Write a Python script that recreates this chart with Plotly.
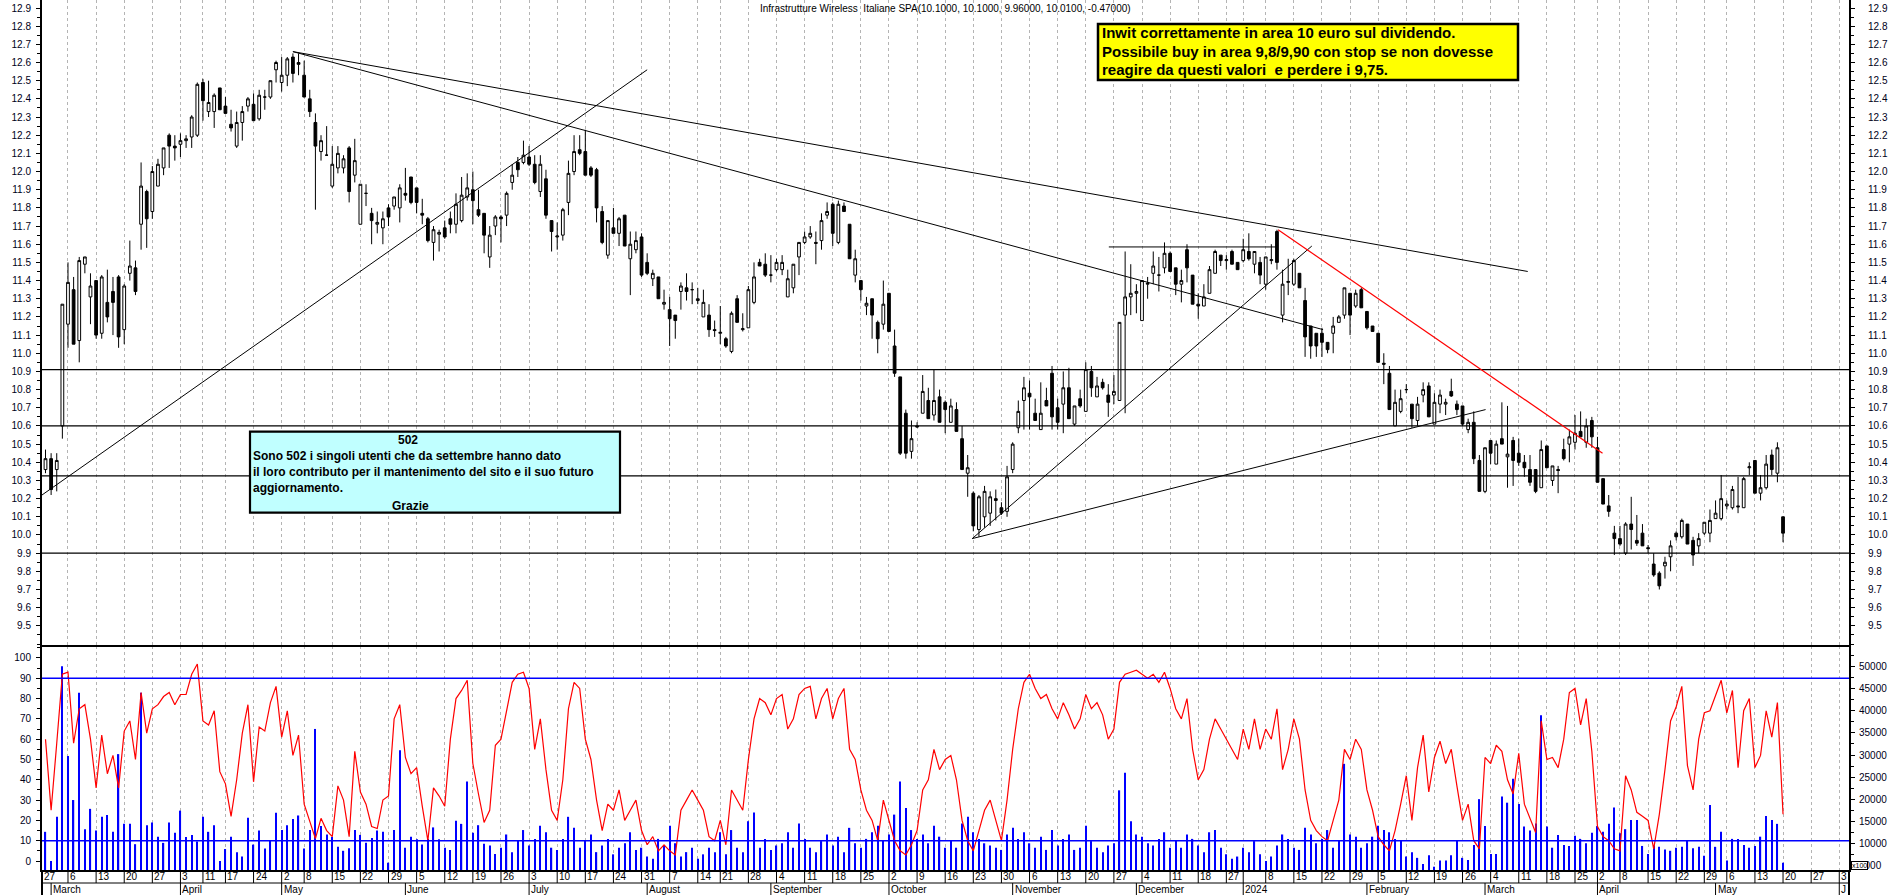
import datetime as dt
import plotly.graph_objects as go

# ---------------- calendar ----------------
HOLIDAYS = [dt.date(2023, 4, 7), dt.date(2023, 4, 10), dt.date(2023, 5, 1), dt.date(2023, 8, 15),
            dt.date(2023, 12, 25), dt.date(2023, 12, 26), dt.date(2024, 1, 1), dt.date(2024, 3, 29),
            dt.date(2024, 4, 1), dt.date(2024, 5, 1)]
CAL_START = dt.date(2023, 2, 27)
CAL_END = dt.date(2024, 6, 7)
FIRST_CANDLE = dt.date(2023, 2, 28)
MONTH_LABELS = ["March", "April", "May", "June", "July", "August", "September", "October",
                "November", "December", "2024", "February", "March", "April", "May", "J"]
SKIP_DAY_LABELS = [dt.date(2024, 1, 2)]

# ---------------- price data (daily OHLC) ----------------
OPEN = [10.36, 10.42, 10.36, 10.60, 11.16, 11.35, 11.07, 11.49, 11.31, 11.40,
        11.11, 11.28, 11.34, 11.42, 11.13, 11.44, 11.47, 11.71, 11.89, 11.78,
        11.92, 12.02, 12.20, 12.14, 12.15, 12.17, 12.19, 12.20, 12.49, 12.33,
        12.33, 12.46, 12.36, 12.26, 12.14, 12.27, 12.36, 12.37, 12.29, 12.41,
        12.41, 12.56, 12.49, 12.53, 12.63, 12.60, 12.53, 12.40, 12.27, 12.11,
        12.09, 11.92, 12.02, 12.02, 12.13, 11.98, 11.71, 11.88, 11.77, 11.71,
        11.69, 11.80, 11.81, 11.80, 11.88, 11.97, 11.91, 11.77, 11.74, 11.61,
        11.655, 11.69, 11.74, 11.71, 11.73, 11.86, 11.90, 11.79, 11.77, 11.53,
        11.70, 11.75, 11.76, 11.94, 12.05, 12.05, 12.08, 12.04, 11.89, 11.96,
        11.73, 11.64, 11.65, 11.83, 12.00, 12.12, 12.11, 12.02, 12.01, 11.78,
        11.54, 11.69, 11.66, 11.76, 11.52, 11.57, 11.64, 11.50, 11.41, 11.42,
        11.27, 11.24, 11.21, 11.34, 11.36, 11.35, 11.29, 11.20, 11.21, 11.13,
        11.11, 11.08, 11.01, 11.30, 11.13, 11.14, 11.28, 11.50, 11.49, 11.43,
        11.46, 11.46, 11.31, 11.36, 11.53, 11.61, 11.64, 11.61, 11.62, 11.76,
        11.82, 11.61, 11.81, 11.71, 11.43, 11.40, 11.26, 11.30, 11.17, 11.16,
        11.33, 11.04, 10.87, 10.67, 10.46, 10.60, 10.67, 10.74, 10.66, 10.76,
        10.73, 10.62, 10.69, 10.53, 10.34, 10.23, 10.03, 10.10, 10.12, 10.20,
        10.15, 10.13, 10.36, 10.59, 10.74, 10.78, 10.67, 10.58, 10.74, 10.89,
        10.70, 10.72, 10.81, 10.61, 10.75, 10.68, 10.90, 10.76, 10.84, 10.77,
        10.77, 10.74, 11.21, 11.31, 11.33, 11.18, 11.38, 11.44, 11.43, 11.47,
        11.55, 11.47, 11.38, 11.57, 11.43, 11.27, 11.26, 11.33, 11.44, 11.54,
        11.51, 11.56, 11.50, 11.51, 11.56, 11.49, 11.50, 11.38, 11.51, 11.67,
        11.21, 11.39, 11.38, 11.44, 11.29, 11.15, 11.11, 11.11, 11.06, 11.11,
        11.17, 11.21, 11.33, 11.26, 11.35, 11.23, 11.15, 11.11, 10.945, 10.89,
        10.60, 10.68, 10.80, 10.72, 10.63, 10.77, 10.82, 10.61, 10.72, 10.72,
        10.79, 10.72, 10.71, 10.58, 10.62, 10.41, 10.24, 10.52, 10.39, 10.53,
        10.43, 10.52, 10.45, 10.40, 10.36, 10.36, 10.26, 10.49, 10.30, 10.36,
        10.47, 10.50, 10.51, 10.57, 10.51, 10.63, 10.48, 10.31, 10.16, 10.01,
        9.98, 9.90, 10.06, 9.97, 10.01, 9.93, 9.84, 9.79, 9.83, 9.88,
        10.01, 9.99, 10.06, 9.97, 9.94, 10.01, 10.01, 10.09, 10.09, 10.16,
        10.15, 10.16, 10.15, 10.37, 10.41, 10.23, 10.26, 10.44, 10.34, 10.10]

HIGH = [10.47, 10.45, 10.45, 11.27, 11.50, 11.42, 11.53, 11.53, 11.44, 11.40,
        11.43, 11.46, 11.42, 11.43, 11.38, 11.62, 11.51, 12.05, 11.90, 12.03,
        12.07, 12.13, 12.21, 12.20, 12.21, 12.20, 12.31, 12.49, 12.51, 12.50,
        12.43, 12.46, 12.41, 12.34, 12.33, 12.36, 12.41, 12.43, 12.45, 12.45,
        12.50, 12.61, 12.63, 12.63, 12.65, 12.65, 12.61, 12.45, 12.32, 12.20,
        12.25, 12.14, 12.14, 12.09, 12.14, 12.18, 11.93, 11.93, 11.80, 11.78,
        11.78, 11.82, 11.86, 11.93, 12.02, 11.97, 11.91, 11.85, 11.75, 11.70,
        11.68, 11.73, 11.78, 11.88, 11.97, 11.99, 12.00, 11.90, 11.77, 11.70,
        11.76, 11.76, 11.89, 12.04, 12.08, 12.17, 12.14, 12.09, 12.09, 12.01,
        11.73, 11.72, 11.80, 12.06, 12.20, 12.20, 12.23, 12.03, 12.02, 11.81,
        11.73, 11.80, 11.75, 11.76, 11.67, 11.67, 11.66, 11.55, 11.46, 11.42,
        11.35, 11.31, 11.21, 11.39, 11.44, 11.39, 11.36, 11.35, 11.27, 11.18,
        11.26, 11.09, 11.23, 11.32, 11.22, 11.37, 11.50, 11.52, 11.55, 11.54,
        11.52, 11.54, 11.46, 11.49, 11.61, 11.67, 11.70, 11.67, 11.77, 11.83,
        11.83, 11.84, 11.83, 11.71, 11.57, 11.40, 11.31, 11.30, 11.18, 11.40,
        11.33, 11.13, 10.87, 10.69, 10.63, 10.62, 10.88, 10.81, 10.91, 10.80,
        10.74, 10.75, 10.73, 10.60, 10.44, 10.24, 10.22, 10.27, 10.24, 10.25,
        10.18, 10.38, 10.51, 10.74, 10.87, 10.85, 10.75, 10.84, 10.81, 10.93,
        10.75, 10.90, 10.92, 10.71, 10.80, 10.95, 10.93, 10.87, 10.86, 10.83,
        10.88, 11.17, 11.56, 11.49, 11.38, 11.40, 11.42, 11.56, 11.53, 11.61,
        11.56, 11.47, 11.46, 11.60, 11.43, 11.33, 11.38, 11.48, 11.57, 11.54,
        11.54, 11.57, 11.50, 11.63, 11.66, 11.56, 11.53, 11.53, 11.60, 11.68,
        11.46, 11.52, 11.52, 11.44, 11.36, 11.15, 11.11, 11.14, 11.06, 11.20,
        11.21, 11.36, 11.33, 11.35, 11.36, 11.23, 11.15, 11.11, 11.00, 10.93,
        10.80, 10.80, 10.83, 10.72, 10.76, 10.84, 10.84, 10.78, 10.80, 10.75,
        10.86, 10.74, 10.71, 10.64, 10.68, 10.44, 10.48, 10.52, 10.52, 10.73,
        10.71, 10.54, 10.53, 10.44, 10.44, 10.36, 10.52, 10.49, 10.38, 10.38,
        10.53, 10.58, 10.66, 10.68, 10.64, 10.65, 10.54, 10.31, 10.22, 10.05,
        10.05, 10.07, 10.21, 10.11, 10.06, 9.945, 9.90, 9.80, 9.88, 9.97,
        10.02, 10.09, 10.06, 9.99, 10.01, 10.07, 10.14, 10.19, 10.33, 10.19,
        10.27, 10.32, 10.32, 10.40, 10.41, 10.33, 10.44, 10.47, 10.51, 10.10]

LOW = [10.34, 10.22, 10.24, 10.53, 11.03, 11.05, 10.95, 11.44, 11.16, 11.08,
       11.08, 11.17, 11.10, 11.03, 11.05, 11.40, 11.32, 11.57, 11.58, 11.74,
       11.92, 11.98, 12.02, 12.06, 12.08, 12.13, 12.13, 12.19, 12.28, 12.30,
       12.24, 12.34, 12.32, 12.22, 12.13, 12.17, 12.33, 12.28, 12.28, 12.34,
       12.40, 12.49, 12.44, 12.47, 12.49, 12.53, 12.41, 12.30, 11.79, 12.06,
       12.09, 11.91, 11.99, 11.99, 11.83, 11.94, 11.71, 11.81, 11.60, 11.66,
       11.60, 11.70, 11.79, 11.72, 11.84, 11.82, 11.77, 11.71, 11.61, 11.51,
       11.56, 11.63, 11.66, 11.66, 11.72, 11.84, 11.71, 11.75, 11.55, 11.47,
       11.65, 11.61, 11.70, 11.90, 11.97, 12.04, 12.03, 11.93, 11.86, 11.74,
       11.56, 11.57, 11.62, 11.76, 11.98, 12.09, 11.98, 11.97, 11.72, 11.60,
       11.52, 11.66, 11.59, 11.59, 11.32, 11.55, 11.42, 11.43, 11.37, 11.30,
       11.24, 11.04, 11.08, 11.24, 11.29, 11.27, 11.27, 11.20, 11.09, 11.09,
       11.05, 11.03, 11.00, 11.17, 11.12, 11.14, 11.27, 11.48, 11.42, 11.39,
       11.45, 11.43, 11.31, 11.33, 11.43, 11.60, 11.63, 11.49, 11.57, 11.74,
       11.59, 11.60, 11.78, 11.52, 11.39, 11.29, 11.21, 11.08, 11.00, 11.13,
       11.12, 10.87, 10.44, 10.42, 10.42, 10.59, 10.67, 10.64, 10.63, 10.62,
       10.56, 10.62, 10.57, 10.36, 10.21, 10.02, 9.99, 10.04, 10.05, 10.08,
       10.11, 10.10, 10.34, 10.56, 10.58, 10.58, 10.63, 10.58, 10.71, 10.58,
       10.58, 10.56, 10.64, 10.60, 10.70, 10.68, 10.76, 10.76, 10.80, 10.65,
       10.72, 10.74, 10.67, 11.21, 11.22, 11.18, 11.30, 11.38, 11.34, 11.44,
       11.45, 11.32, 11.28, 11.39, 11.27, 11.19, 11.26, 11.33, 11.44, 11.48,
       11.46, 11.49, 11.46, 11.50, 11.51, 11.44, 11.38, 11.35, 11.49, 11.46,
       11.17, 11.32, 11.37, 11.36, 10.98, 10.97, 10.98, 10.98, 11.00, 11.00,
       11.17, 11.19, 11.10, 11.25, 11.25, 11.13, 11.12, 10.95, 10.83, 10.69,
       10.60, 10.67, 10.78, 10.59, 10.60, 10.73, 10.65, 10.61, 10.67, 10.66,
       10.76, 10.66, 10.60, 10.56, 10.39, 10.24, 10.23, 10.39, 10.39, 10.50,
       10.26, 10.27, 10.38, 10.32, 10.27, 10.23, 10.26, 10.37, 10.27, 10.23,
       10.41, 10.40, 10.47, 10.54, 10.48, 10.48, 10.29, 10.17, 10.10, 9.89,
       9.94, 9.89, 9.92, 9.94, 9.94, 9.90, 9.77, 9.70, 9.76, 9.80,
       9.97, 9.98, 9.95, 9.83, 9.90, 10.00, 9.96, 10.09, 10.08, 10.14,
       10.14, 10.12, 10.15, 10.33, 10.23, 10.19, 10.25, 10.33, 10.29, 9.96]

CLOSE = [10.42, 10.25, 10.41, 11.27, 11.39, 11.05, 11.51, 11.53, 11.37, 11.10,
         11.42, 11.20, 11.28, 11.09, 11.37, 11.48, 11.34, 11.92, 11.74, 12.00,
         12.04, 12.13, 12.14, 12.13, 12.17, 12.18, 12.30, 12.48, 12.39, 12.38,
         12.42, 12.34, 12.32, 12.24, 12.27, 12.33, 12.40, 12.28, 12.42, 12.41,
         12.50, 12.60, 12.53, 12.62, 12.54, 12.59, 12.41, 12.33, 12.14, 12.17,
         12.09, 12.04, 12.10, 12.07, 11.89, 12.06, 11.93, 11.88, 11.73, 11.72,
         11.74, 11.75, 11.86, 11.91, 11.87, 11.83, 11.83, 11.76, 11.62, 11.68,
         11.665, 11.64, 11.71, 11.82, 11.87, 11.91, 11.84, 11.76, 11.65, 11.65,
         11.75, 11.74, 11.88, 11.98, 12.01, 12.09, 12.04, 11.94, 12.04, 11.76,
         11.67, 11.645, 11.79, 11.99, 12.11, 12.10, 11.98, 11.98, 11.80, 11.61,
         11.73, 11.66, 11.74, 11.59, 11.60, 11.62, 11.43, 11.44, 11.44, 11.30,
         11.28, 11.19, 11.18, 11.37, 11.34, 11.35, 11.30, 11.28, 11.13, 11.125,
         11.115, 11.04, 11.22, 11.17, 11.135, 11.35, 11.42, 11.48, 11.43, 11.43,
         11.50, 11.50, 11.41, 11.49, 11.61, 11.64, 11.66, 11.605, 11.73, 11.78,
         11.66, 11.82, 11.78, 11.52, 11.52, 11.35, 11.275, 11.21, 11.08, 11.27,
         11.12, 10.89, 10.45, 10.45, 10.53, 10.595, 10.79, 10.64, 10.74, 10.62,
         10.69, 10.71, 10.57, 10.36, 10.37, 10.05, 10.21, 10.24, 10.21, 10.19,
         10.12, 10.32, 10.50, 10.68, 10.81, 10.76, 10.63, 10.67, 10.71, 10.65,
         10.62, 10.81, 10.64, 10.71, 10.71, 10.91, 10.81, 10.82, 10.81, 10.73,
         10.79, 11.17, 11.31, 11.33, 11.34, 11.40, 11.385, 11.48, 11.43, 11.55,
         11.45, 11.38, 11.40, 11.47, 11.27, 11.26, 11.31, 11.46, 11.56, 11.51,
         11.515, 11.49, 11.46, 11.57, 11.52, 11.56, 11.43, 11.53, 11.515, 11.50,
         11.38, 11.395, 11.51, 11.36, 11.09, 11.04, 11.04, 11.06, 11.02, 11.15,
         11.20, 11.36, 11.21, 11.33, 11.25, 11.14, 11.12, 10.95, 10.94, 10.69,
         10.73, 10.75, 10.80, 10.64, 10.72, 10.80, 10.65, 10.73, 10.77, 10.73,
         10.765, 10.69, 10.61, 10.62, 10.42, 10.24, 10.48, 10.45, 10.50, 10.50,
         10.445, 10.41, 10.40, 10.37, 10.29, 10.24, 10.47, 10.37, 10.38, 10.355,
         10.42, 10.54, 10.56, 10.54, 10.60, 10.54, 10.29, 10.17, 10.13, 9.98,
         9.95, 10.06, 10.03, 9.955, 9.94, 9.925, 9.78, 9.72, 9.85, 9.94,
         9.99, 10.08, 9.95, 9.89, 9.98, 10.07, 10.08, 10.12, 10.20, 10.17,
         10.25, 10.155, 10.31, 10.375, 10.23, 10.26, 10.39, 10.36, 10.48, 10.01]

# ---------------- lower panel: oscillator (0-100) and volume (x100) ----------------
OSCILLATOR = [60, 25, 58, 92, 93, 58, 75, 77, 60, 36,
              62, 43, 52, 36, 64, 69, 50, 83, 63, 75,
              77, 81, 83, 77, 82, 82, 92, 97, 69, 67,
              74, 44, 38, 22, 40, 63, 77, 39, 66, 64,
              78, 86, 61, 74, 52, 62, 28, 20, 11, 21,
              15, 12, 37, 30, 12, 54, 34, 28, 17, 16,
              30, 32, 70, 77, 51, 43, 46, 27, 10, 36,
              32, 27, 60, 80, 84, 89, 48, 33, 19, 25,
              57, 60, 75, 88, 92, 93, 85, 55, 70, 45,
              25, 20, 40, 75, 88, 85, 60, 50, 30, 15,
              28, 25, 35, 20, 25, 30, 15, 8, 12, 5,
              8, 5, 3, 25, 30, 35, 30, 25, 12, 10,
              20, 8, 35, 30, 25, 50, 70, 80, 78, 72,
              80, 82, 65, 70, 82, 85, 86, 70, 80, 85,
              70, 80, 85, 55, 50, 35, 25, 20, 10, 30,
              20, 10, 5, 3, 8, 15, 35, 40, 55, 45,
              50, 52, 40, 20, 10, 5, 15, 25, 30, 20,
              10, 30, 55, 75, 88, 92, 85, 80, 82, 75,
              70, 78, 72, 65, 70, 82, 75, 78, 72, 60,
              65, 88, 92, 93, 94, 92, 90, 92, 88, 93,
              85, 75, 70, 80, 55, 40, 45, 60, 70, 65,
              60, 55, 50, 65, 55, 70, 55, 65, 60, 75,
              45, 55, 70, 60, 35, 20, 15, 12, 10, 20,
              30, 55, 50, 60, 55, 35, 25, 12, 8, 5,
              15, 28, 42, 20, 46, 62, 34, 51, 59, 48,
              55, 37, 20, 28, 10, 6, 51, 48, 57, 54,
              40, 33, 53, 28, 21, 14, 69, 50, 51, 46,
              60, 83, 85, 67, 80, 54, 17, 12, 10, 6,
              5, 42, 35, 24, 22, 20, 6, 23, 45, 69,
              76, 86, 47, 35, 60, 73, 74, 82, 89, 73,
              84, 46, 74, 80, 46, 52, 74, 61, 78, 23]

VOLUME = [12600, 6000, 16000, 50100, 29800, 19800, 44100, 13200, 17800, 12900,
          16000, 16400, 12600, 30200, 14400, 14400, 9800, 44100, 14100, 14700,
          11500, 10100, 14700, 12400, 17400, 11400, 11900, 10400, 16000, 12600,
          14100, 6000, 8700, 11500, 8000, 7000, 15800, 9700, 12900, 8800,
          10700, 16900, 13000, 14100, 15500, 16300, 8800, 13000, 35900, 13900,
          12000, 11400, 9200, 8300, 8900, 13000, 11900, 10100, 11200, 12900,
          12600, 5600, 13000, 31100, 9000, 11500, 10900, 9700, 11000, 13600,
          10900, 9000, 8500, 15100, 14400, 24000, 12400, 14100, 9900, 9500,
          7600,
          9000, 12000, 8000, 10500, 13000, 9500, 11000, 14000, 12500, 9000,
          8500, 11000, 16000, 13500, 9000, 10500, 12000, 8000, 9500, 11000,
          7500, 9000, 10000, 12500, 8500, 9000, 7000, 6500, 11000, 9500,
          14000, 10000, 7000, 8000, 9000, 6500, 7500, 9000, 8000, 12500,
          7500, 13000, 9000, 8000, 15000, 17000, 9000, 11000, 8500, 9500,
          10000, 12500, 9000, 14500, 11000, 9000, 8000, 10500, 12000, 9500,
          11500, 8000, 13500, 10000, 9000, 11000, 12500, 14000, 10500, 12000,
          16500, 24000, 18000, 13000, 11000, 12000, 10000, 14000, 11500, 9000,
          10500, 9000, 14500, 16000, 12500, 11000, 10000, 9500, 9000, 8500,
          12000, 13500, 11000, 12500, 10000, 9000, 11500, 8500, 13000, 9500,
          11000, 12000, 8500, 9000, 14000, 10500, 9000, 8000, 9500, 10000,
          22000, 26000, 15000, 12000, 11500, 10000, 9500, 11000, 12500, 9000,
          10500, 9000, 12000, 11000, 9500, 8000, 12500, 13000, 9000, 7500,
          6500, 7000, 9000, 8000, 10500, 7500, 6000, 7000, 9500, 12000,
          11000, 9000, 8500, 13500, 12000, 10000, 11000, 13000, 9000, 10500,
          28000, 12000, 11500, 9000, 10000, 11500, 14000, 13000, 12500, 11000,
          10700, 7000, 8000, 6700, 5300, 7300, 4700, 6100, 6100, 7300,
          10700, 6700, 6200, 9600, 20000, 13900, 7600, 7600, 20600, 19200,
          24600, 18900, 13800, 12900, 14500, 39000, 13800, 9000, 11900, 9600,
          9400, 11700, 11000, 10000, 12400, 13900, 12600, 14400, 18100, 12300,
          13200, 15300, 15300, 9400, 7600, 9500, 9200, 8600, 8300, 9000,
          9200, 10700, 8900, 9200, 7200, 18700, 9200, 12600, 6100, 11000,
          11000, 9600, 9000, 9400, 11500, 16200, 15300, 14400, 5600]

# ---------------- drawn studies (x in trading-day positions, y in price) ----------------
LEVELS = [10.91, 10.60, 10.325, 9.90]
TREND_X0 = [0.378, 45.0, 45.0, 165.8, 165.8, 190.1]
TREND_Y0 = [10.22, 12.66, 12.66, 9.98, 9.98, 11.585]
TREND_X1 = [108.0, 264.6, 228.2, 226.2, 257.1, 220.0]
TREND_Y1 = [12.56, 11.45, 11.13, 11.59, 10.69, 11.585]
RED_TREND = [(220.2, 11.68), (277.9, 10.45)]
OSC_BANDS = [90, 10]

TITLE = "Infrastrutture Wireless  Italiane SPA(10.1000, 10.1000, 9.96000, 10.0100, -0.47000)"
YELLOW_LINES = ["Inwit correttamente in area 10 euro sul dividendo.",
                "Possibile buy in area 9,8/9,90 con stop se non dovesse",
                "reagire da questi valori  e perdere i 9,75."]
CYAN_TITLE = "502"
CYAN_LINES = ["Sono 502 i singoli utenti che da settembre hanno dato",
              "il loro contributo per il mantenimento del sito e il suo futuro",
              "aggiornamento."]
CYAN_FOOT = "Grazie"

# ---------------- build ----------------
days = []
d = CAL_START
while d <= CAL_END:
    if d.weekday() < 5 and d not in HOLIDAYS:
        days.append(d)
    d += dt.timedelta(days=1)

x_first = days.index(FIRST_CANDLE)
xs = list(range(x_first, x_first + len(OPEN)))

XMIN, XMAX = 0.378, 321.73
week_starts = [i for i, dd in enumerate(days)
               if i == 0 or dd.isocalendar()[1] != days[i - 1].isocalendar()[1]]
week_starts = [i for i in week_starts if i <= XMAX]
month_starts = [i for i, dd in enumerate(days) if i > 0 and dd.month != days[i - 1].month and i <= XMAX]

# figure geometry (pixels)
W, H = 1890, 895
ML, MR, MT, MB = 42, 41, 0, 25
PW, PH = W - ML - MR, H - MT - MB
SPLIT = 646  # pixel row of panel separator


def px(xp):
    return (xp - ML) / PW


def py(yp):
    return (PH - yp) / PH


LOW_DOM = py(SPLIT)

FONT = "Liberation Sans, Arial, sans-serif"

fig = go.Figure()

fig.add_trace(go.Bar(x=xs, y=VOLUME, xaxis="x", yaxis="y2", width=0.22,
                     marker=dict(color="#0000ff", line=dict(width=0)), hoverinfo="skip"))
fig.add_trace(go.Scatter(x=xs, y=OSCILLATOR, xaxis="x", yaxis="y4", mode="lines",
                         line=dict(color="#ff0000", width=1.2), hoverinfo="skip"))
fig.add_trace(go.Candlestick(x=xs, open=OPEN, high=HIGH, low=LOW, close=CLOSE,
                             xaxis="x", yaxis="y", whiskerwidth=0,
                             increasing=dict(fillcolor="white", line=dict(color="black", width=1)),
                             decreasing=dict(fillcolor="black", line=dict(color="black", width=1)),
                             hoverinfo="skip"))
fig.add_trace(go.Scatter(x=[xs[0]], y=[CLOSE[0]], xaxis="x", yaxis="y3", mode="markers",
                         marker=dict(opacity=0), hoverinfo="skip"))

price_ticks = [round(9.5 + 0.1 * k, 1) for k in range(35)]
osc_ticks = list(range(0, 101, 10))
vol_ticks = list(range(5000, 50001, 5000))

tickfont = dict(family=FONT, size=10, color="#000018")
common_y = dict(showgrid=False, zeroline=False, showline=True, linecolor="black", linewidth=2,
                ticks="outside", ticklen=4, tickcolor="black", tickfont=tickfont, fixedrange=True)

fig.update_layout(
    width=W, height=H,
    margin=dict(l=ML, r=MR, t=MT, b=MB, pad=0),
    paper_bgcolor="white", plot_bgcolor="white",
    showlegend=False,
    font=dict(family=FONT, size=11, color="black"),
    xaxis=dict(domain=[0, 1], range=[XMIN, XMAX], anchor="y2", tickmode="array",
               tickvals=week_starts, showticklabels=False, ticks="",
               showgrid=True, gridcolor="#b4b4b4", griddash="3px,3px", gridwidth=1,
               zeroline=False, showline=True, linecolor="black", linewidth=2,
               rangeslider=dict(visible=False), fixedrange=True),
    yaxis=dict(domain=[LOW_DOM, 1], range=[9.389, 12.944], anchor="x", side="left",
               tickmode="array", tickvals=price_ticks, ticktext=[f"{v:.1f}" for v in price_ticks],
               minor=dict(dtick=0.05, tick0=9.4, ticks="outside", ticklen=3, tickcolor="black"),
               ticklabelstandoff=3, **common_y),
    yaxis3=dict(range=[9.389, 12.944], overlaying="y", anchor="x", side="right",
                tickmode="array", tickvals=price_ticks, ticktext=[f"{v:.1f}" for v in price_ticks],
                minor=dict(dtick=0.05, tick0=9.4, ticks="outside", ticklen=3, tickcolor="black"),
                ticklabelstandoff=11, **common_y),
    yaxis2=dict(domain=[0, LOW_DOM], range=[3952, 54689], anchor="x", side="right",
                tickmode="array", tickvals=vol_ticks, ticktext=[str(v) for v in vol_ticks],
                minor=dict(dtick=2500, tick0=0, ticks="outside", ticklen=3, tickcolor="black"),
                ticklabelstandoff=2, **common_y),
    yaxis4=dict(range=[-4.43, 105.9], overlaying="y2", anchor="x", side="left",
                tickmode="array", tickvals=osc_ticks, ticktext=[str(v) for v in osc_ticks],
                minor=dict(dtick=5, tick0=0, ticks="outside", ticklen=3, tickcolor="black"),
                ticklabelstandoff=3, **common_y),
)

shapes = []
for lv in LEVELS:
    shapes.append(dict(type="line", xref="paper", yref="y", x0=0, x1=1, y0=lv, y1=lv,
                       line=dict(color="black", width=1.3)))
for x0, y0, x1, y1 in zip(TREND_X0, TREND_Y0, TREND_X1, TREND_Y1):
    shapes.append(dict(type="line", xref="x", yref="y", x0=x0, y0=y0, x1=x1, y1=y1,
                       line=dict(color="black", width=1)))
shapes.append(dict(type="line", xref="x", yref="y", x0=RED_TREND[0][0], y0=RED_TREND[0][1],
                   x1=RED_TREND[1][0], y1=RED_TREND[1][1], line=dict(color="#ff0000", width=1.2)))
for b in OSC_BANDS:
    shapes.append(dict(type="line", xref="paper", yref="y4", x0=0, x1=1, y0=b, y1=b,
                       line=dict(color="#0000ff", width=1.6)))
shapes.append(dict(type="line", xref="paper", yref="paper", x0=0, x1=1, y0=LOW_DOM, y1=LOW_DOM,
                   line=dict(color="black", width=2)))
row1 = py(883)
row2 = py(895)
shapes.append(dict(type="line", xref="paper", yref="paper", x0=0, x1=1, y0=row1, y1=row1,
                   line=dict(color="black", width=1)))
for xp in (0, 1):
    shapes.append(dict(type="line", xref="paper", yref="paper", x0=xp, x1=xp, y0=0, y1=row2,
                       line=dict(color="black", width=2)))
for i in week_starts:
    if i >= XMIN:
        shapes.append(dict(type="line", xref="x", yref="paper", x0=i, x1=i, y0=0, y1=row1,
                           line=dict(color="black", width=1)))
for i in month_starts:
    shapes.append(dict(type="line", xref="x", yref="paper", x0=i, x1=i, y0=row1, y1=row2,
                       line=dict(color="black", width=1)))
shapes.append(dict(type="rect", xref="paper", yref="paper", x0=px(1098), x1=px(1518),
                   y0=py(80), y1=py(24), fillcolor="#ffff00", line=dict(color="black", width=2.5)))
shapes.append(dict(type="rect", xref="paper", yref="paper", x0=px(250), x1=px(620),
                   y0=py(512.7), y1=py(431.7), fillcolor="#c0ffff", line=dict(color="black", width=2.2)))
fig.update_layout(shapes=shapes)

ann = []
for i in week_starts:
    if days[i] in SKIP_DAY_LABELS:
        continue
    ann.append(dict(x=max(i, XMIN + 0.02), y=py(876.5), xref="x", yref="paper", text=str(days[i].day),
                    showarrow=False, xanchor="left", yanchor="middle",
                    font=dict(family=FONT, size=10, color="black")))
for i, lab in zip(month_starts, MONTH_LABELS):
    ann.append(dict(x=i, y=py(889.3), xref="x", yref="paper", text=lab,
                    showarrow=False, xanchor="left", yanchor="middle",
                    font=dict(family=FONT, size=10, color="black")))
ann.append(dict(x=px(945), y=py(8.5), xref="paper", yref="paper", text=TITLE, showarrow=False,
                xanchor="center", yanchor="middle", font=dict(family=FONT, size=10, color="black")))
for k, line in enumerate(YELLOW_LINES):
    ann.append(dict(x=px(1100), y=py(33 + 18 * k), xref="paper", yref="paper", text="<b>%s</b>" % line,
                    showarrow=False, xanchor="left", yanchor="middle",
                    font=dict(family=FONT, size=15, color="black")))
ann.append(dict(x=px(408), y=py(440), xref="paper", yref="paper", text="<b>%s</b>" % CYAN_TITLE,
                showarrow=False, xanchor="center", yanchor="middle",
                font=dict(family=FONT, size=12, color="black")))
for k, line in enumerate(CYAN_LINES):
    ann.append(dict(x=px(251), y=py(456.5 + 15.6 * k), xref="paper", yref="paper", text="<b>%s</b>" % line,
                    showarrow=False, xanchor="left", yanchor="middle",
                    font=dict(family=FONT, size=12, color="black")))
ann.append(dict(x=px(410), y=py(505.5), xref="paper", yref="paper", text="<b>%s</b>" % CYAN_FOOT,
                showarrow=False, xanchor="center", yanchor="middle",
                font=dict(family=FONT, size=12, color="black")))
ann.append(dict(x=px(1851), y=py(869.5), xref="paper", yref="paper", text="x100", showarrow=False,
                xanchor="left", yanchor="bottom", bgcolor="white", bordercolor="black", borderwidth=1,
                borderpad=0, font=dict(family=FONT, size=7, color="black")))
fig.update_layout(annotations=ann)

fig.write_html("out.html", config={"displayModeBar": False},
               post_script="document.body.style.margin='0px';document.body.style.overflow='hidden';")
